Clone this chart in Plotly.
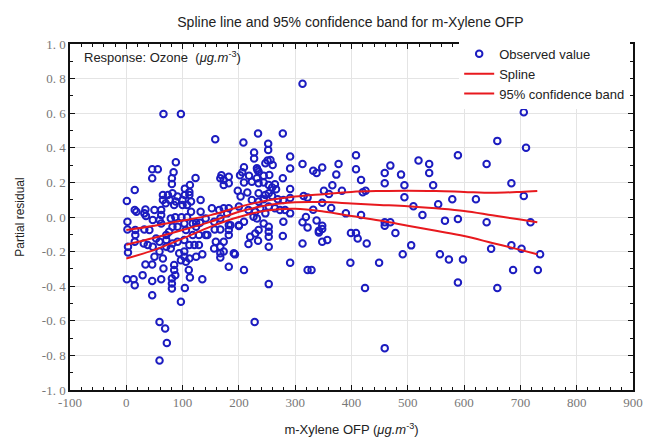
import plotly.graph_objects as go

# Observed partial residuals (x: m-Xylene OFP, y: partial residual)
obs_x = [
    66, 97, 158, 234, 278, 208, 252, 252, 227, 227, 251, 260, 247, 256, 88, 46, 56, 46, 84, 81,
    81, 123, 233, 209, 206, 202, 218, 278, 244, 254, 232, 235, 232, 169, 167, 173, 182, 182, 173, 209,
    223, 235, 244, 253, 264, 259, 266, 15, 104, 113, 112, 198, 215,
    1, 104, 112, 65, 74, 82, 91, 65, 77, 88, 100, 108, 100, 115, 132, 132, 70, 85, 235, 247, 253,
    259, 269, 279, 223, 235, 244, 203, 15, 18, 34, 32, 35, 50, 62, 62, 47, 59, 79, 87, 98, 108, 124,
    131, 2, 115, 141, 152, 165, 173, 182, 179, 167, 156, 200, 217, 229, 238, 226, 232, 247, 253, 264,
    273, 282, 279, 200, 209, 185, 244, 62,
    2, 16, 16, 32, 41, 3, 3, 15, 31, 38, 47, 53, 59, 71, 71, 82, 91, 71, 79, 59, 50, 65, 82, 76, 91,
    103, 106, 118, 124, 141, 118, 129, 103, 112, 121, 129, 94, 103, 103, 112, 124, 97, 106, 135, 34,
    46, 66, 85, 85, 87, 111, 113, 81, 81, 81, 29, 1, 13, 15, 46, 62, 104, 135, 46, 97, 59, 69, 72,
    59, 144, 157, 167, 159, 173, 156, 167, 167, 173, 167, 182, 182, 182, 200, 193, 217, 220, 229, 235,
    234, 253, 253, 253, 253, 278, 182, 209, 253, 228, 191,
    313, 706, 659, 710, 589, 408, 519, 538, 538, 640, 313, 348, 377, 469, 408, 459, 332, 338, 488, 373,
    417, 459, 494, 545, 684, 366, 291, 351, 383, 425, 420, 360, 706, 291, 315, 322, 579, 621, 494, 348,
    364, 554, 510, 332, 390, 417, 291, 526, 319, 338, 313, 322, 348, 348, 342, 342, 357, 348, 313, 459,
    459, 469, 411, 399, 408, 427, 478, 506, 566, 589, 640, 718, 684, 702, 648, 735, 557, 573, 598, 491,
    398, 449, 291, 322, 329, 687, 731, 424, 589, 659, 459, 291, 291,
]
obs_y = [
    0.595, 0.595, 0.45, 0.483, 0.483, 0.43, 0.423, 0.388, 0.373, 0.338, 0.326, 0.30, 0.311, 0.33, 0.317, 0.276, 0.276, 0.224, 0.259, 0.224,
    0.191, 0.226, 0.272, 0.288, 0.259, 0.241, 0.238, 0.224, 0.238, 0.243, 0.282, 0.262, 0.224, 0.241, 0.224, 0.214, 0.233, 0.195, 0.185, 0.199,
    0.204, 0.195, 0.199, 0.185, 0.189, 0.17, 0.16, 0.156, 0.164, 0.185, 0.145, 0.152, 0.141,
    0.093, 0.127, 0.127, 0.127, 0.127, 0.137, 0.118, 0.098, 0.098, 0.089, 0.098, 0.069, 0.069, 0.089, 0.098, 0.031, 0.079, 0.069, 0.137, 0.127, 0.137,
    0.121, 0.102, 0.098, 0.098, 0.089, 0.102, 0.118, 0.04, 0.031, 0.044, 0.021, 0.006, 0.04, 0.04, 0.011, -0.018, -0.018, -0.008, -0.002, -0.002, -0.002, -0.033,
    -0.033, -0.027, 0.031, -0.008, 0.05, 0.04, 0.05, 0.05, 0.021, -0.008, -0.027, 0.06, 0.04, 0.031, 0.05, 0.002, -0.008, 0.021, 0.06, 0.05,
    0.04, 0.04, -0.027, -0.047, -0.027, -0.047, -0.037, -0.037,
    -0.072, -0.075, -0.104, -0.072, -0.075, -0.172, -0.205, -0.143, -0.153, -0.162, -0.172, -0.124, -0.143, -0.104, -0.133, -0.153, -0.143, -0.172, -0.182, -0.2, -0.23, -0.24, -0.056, -0.085, -0.056,
    -0.037, -0.075, -0.037, -0.056, -0.104, -0.104, -0.104, -0.133, -0.162, -0.162, -0.162, -0.21, -0.2, -0.23, -0.24, -0.23, -0.25, -0.259, -0.216, -0.274,
    -0.274, -0.298, -0.278, -0.307, -0.336, -0.307, -0.35, -0.355, -0.384, -0.413, -0.336, -0.36, -0.36, -0.394, -0.37, -0.36, -0.41, -0.36, -0.452, -0.49, -0.607, -0.645, -0.728,
    -0.83, -0.104, -0.072, -0.072, -0.143, -0.143, -0.182, -0.172, -0.21, -0.2, -0.234, -0.046, -0.075, -0.104, -0.052, -0.216, -0.156, -0.114, -0.095, -0.075,
    -0.137, -0.056, -0.085, -0.114, -0.172, -0.11, -0.288, -0.307, -0.388, -0.607, -0.21,
    0.77, 0.605, 0.44, 0.40, 0.357, 0.357, 0.326, 0.307, 0.255, 0.307, 0.307, 0.286, 0.307, 0.297, 0.276, 0.255, 0.267, 0.255, 0.245, 0.245,
    0.214, 0.195, 0.184, 0.184, 0.195, 0.184, 0.162, 0.152, 0.152, 0.152, 0.143, 0.133, 0.122, 0.11, 0.122, 0.112, 0.103, 0.103, 0.114, 0.083,
    0.052, 0.074, 0.062, 0.042, 0.021, 0.012, 0.021, 0.012, 0.0, -0.02, -0.031, -0.06, -0.05, -0.07, -0.08, -0.09, -0.133, -0.143, -0.153, -0.031,
    -0.05, -0.031, -0.124, -0.093, -0.093, -0.153, -0.093, -0.164, -0.021, -0.012, -0.031, -0.031, -0.164, -0.184, -0.184, -0.215, -0.215, -0.245, -0.245, -0.215,
    -0.265, -0.265, -0.265, -0.307, -0.307, -0.307, -0.307, -0.41, -0.379, -0.41, -0.758, 0.35, 0.28,
]

# Fitted spline and its 95% confidence band
curve_x = [0, 50, 100, 150, 200, 250, 300, 350, 400, 450, 500, 550, 600, 650, 700, 730]
spline_y = [-0.16, -0.12, -0.075, -0.027, 0.03, 0.068, 0.085, 0.086, 0.078, 0.07, 0.062, 0.05, 0.035, 0.01, -0.015, -0.03]
band_upper = [-0.075, -0.05, -0.02, 0.011, 0.058, 0.095, 0.118, 0.132, 0.145, 0.15, 0.152, 0.15, 0.145, 0.14, 0.145, 0.15]
band_lower = [-0.24, -0.19, -0.125, -0.056, 0.0, 0.038, 0.047, 0.032, 0.006, -0.02, -0.05, -0.08, -0.11, -0.15, -0.19, -0.215]

x_ticks = [-100, 0, 100, 200, 300, 400, 500, 600, 700, 800, 900]
y_ticks = [1.0, 0.8, 0.6, 0.4, 0.2, 0.0, -0.2, -0.4, -0.6, -0.8, -1.0]
y_tick_text = ["1.\u00a00", "0.\u00a08", "0.\u00a06", "0.\u00a04", "0.\u00a02", "0.\u00a00",
               "-0.\u00a02", "-0.\u00a04", "-0.\u00a06", "-0.\u00a08", "-1.\u00a00"]

BLUE = "#1c1cc0"
RED = "#e8191e"
SANS = "Liberation Sans, Arial, sans-serif"
SERIF = "Liberation Serif"

fig = go.Figure()
fig.add_trace(go.Scatter(
    x=obs_x, y=obs_y, mode="markers", name="Observed value",
    marker=dict(symbol="circle-open", size=6.5, color=BLUE, line=dict(width=2, color=BLUE)),
))
fig.add_trace(go.Scatter(
    x=curve_x, y=spline_y, mode="lines", name="Spline",
    line=dict(color=RED, width=2, shape="spline"),
))
fig.add_trace(go.Scatter(
    x=curve_x, y=band_upper, mode="lines", name="95% confidence band",
    legendgroup="band", line=dict(color=RED, width=2, shape="spline"),
))
fig.add_trace(go.Scatter(
    x=curve_x, y=band_lower, mode="lines", name="95% confidence band",
    legendgroup="band", showlegend=False, line=dict(color=RED, width=2, shape="spline"),
))

axis_common = dict(
    showline=True, linecolor="#111", linewidth=1.5, mirror="ticks",
    ticks="inside", ticklen=5, tickcolor="#111",
    showgrid=True, gridcolor="#e4e4e4", gridwidth=1, zeroline=False,
    tickfont=dict(family=SERIF, size=13, color="#777"),
    automargin=False,
)

fig.update_xaxes(
    range=[-100, 900], tickvals=x_ticks, ticktext=[str(v) for v in x_ticks],
    minor=dict(dtick=20, tick0=0, ticks="inside", ticklen=3, tickcolor="#111", showgrid=False),
    title=dict(text="m-Xylene OFP (<i>μg.m</i><sup>-3</sup>)", font=dict(family=SANS, size=13, color="#222"), standoff=16),
    **axis_common,
)
fig.update_yaxes(
    range=[-1, 1], tickvals=y_ticks, ticktext=y_tick_text,
    minor=dict(dtick=0.1, tick0=0, ticks="inside", ticklen=3, tickcolor="#111", showgrid=False),
    title=dict(text="Partial residual", font=dict(family=SANS, size=12, color="#222"), standoff=15),
    **axis_common,
)

fig.add_annotation(
    x=0.022, y=0.99, xref="paper", yref="paper", xanchor="left", yanchor="top",
    text="Response: Ozone  (<i>μg.m</i><sup>-3</sup>)", showarrow=False,
    font=dict(family=SANS, size=13, color="#222"),
)

fig.update_layout(
    width=649, height=443,
    margin=dict(l=70, r=16, t=44, b=53),
    paper_bgcolor="white", plot_bgcolor="white",
    title=dict(text="Spline line and 95% confidence band for m-Xylene OFP",
               x=0.54, xanchor="center", y=0.95, yanchor="middle",
               font=dict(family=SANS, size=14, color="#222")),
    legend=dict(x=0.995, y=1.015, xanchor="right", yanchor="top",
                bgcolor="white", borderwidth=0,
                font=dict(family=SANS, size=13, color="#222"),
                tracegroupgap=0, itemwidth=30),
    showlegend=True,
)

fig.write_html("out.html")
